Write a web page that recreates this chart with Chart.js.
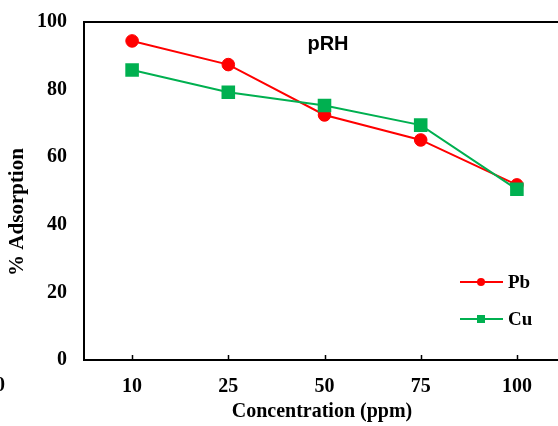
<!DOCTYPE html>
<html>
<head>
<meta charset="utf-8">
<script src="https://cdn.jsdelivr.net/npm/chart.js@4.4.1/dist/chart.umd.min.js"></script>
<style>
  html, body { margin: 0; padding: 0; background: #fff; overflow: hidden; }
  #wrap { width: 570px; height: 426px; }
</style>
</head>
<body>
<div id="wrap"><canvas id="c" width="570" height="426"></canvas></div>
<script>
// Concentration levels (ppm)
const categories = ['10', '25', '50', '75', '100'];
// % adsorption for each metal ion
const pbValues = [94.4, 87.4, 72.5, 65.1, 51.8];
const cuValues = [85.8, 79.2, 75.3, 69.5, 50.5];
const yTicks = [0, 20, 40, 60, 80, 100];

const SERIF = '"Liberation Serif", "Times New Roman", serif';

// keep the plot box fixed: no extra room for overhanging tick labels
function zeroPadding(scale) {
  scale.paddingTop = 0;
  scale.paddingBottom = 0;
  scale.paddingLeft = 0;
  scale.paddingRight = 0;
}

// Frame, inward x ticks, axis titles, in-plot title and legend
const decorations = {
  id: 'decorations',
  afterDraw(chart) {
    const { ctx, chartArea: a, scales } = chart;
    const x = scales.x;
    ctx.save();
    // top and right frame lines
    ctx.strokeStyle = '#000';
    ctx.lineWidth = 2;
    ctx.beginPath();
    ctx.moveTo(a.left - 1, a.top);
    ctx.lineTo(a.right, a.top);
    ctx.lineTo(a.right, a.bottom);
    ctx.stroke();
    // small tick marks pointing into the plot
    ctx.lineWidth = 1.5;
    ctx.beginPath();
    categories.forEach((c, i) => {
      const px = Math.round(x.getPixelForTick(i)) + 0.5;
      ctx.moveTo(px, a.bottom);
      ctx.lineTo(px, a.bottom - 5);
    });
    ctx.stroke();

    ctx.fillStyle = '#000';
    ctx.textAlign = 'center';
    ctx.textBaseline = 'middle';

    // x axis title
    ctx.font = 'bold 20px ' + SERIF;
    ctx.fillText('Concentration (ppm)', 322, 412);

    // y axis title
    ctx.save();
    ctx.font = 'bold 21px ' + SERIF;
    ctx.translate(18, (a.top + a.bottom) / 2 + 21);
    ctx.rotate(-Math.PI / 2);
    ctx.fillText('% Adsorption', 0, 0);
    ctx.restore();

    // panel title
    ctx.font = 'bold 20px "Liberation Sans", Arial, sans-serif';
    ctx.fillText('pRH', 328, 44);

    // clipped axis label of the neighbouring panel
    ctx.font = 'bold 20px ' + SERIF;
    ctx.textAlign = 'right';
    ctx.fillText('100', 5, 386);

    // legend
    const entries = chart.data.datasets.slice().sort((p, q) => q.order - p.order);
    entries.forEach((ds, i) => {
      const ly = 282 + i * 37;
      ctx.strokeStyle = ds.borderColor;
      ctx.lineWidth = 2;
      ctx.beginPath();
      ctx.moveTo(460, ly);
      ctx.lineTo(503, ly);
      ctx.stroke();
      ctx.fillStyle = ds.borderColor;
      if (ds.pointStyle === 'rect') {
        ctx.fillRect(477, ly - 4, 8, 8);
      } else {
        ctx.beginPath();
        ctx.arc(481, ly, 4, 0, Math.PI * 2);
        ctx.fill();
      }
      ctx.fillStyle = '#000';
      ctx.font = 'bold 19px ' + SERIF;
      ctx.textAlign = 'left';
      ctx.textBaseline = 'middle';
      ctx.fillText(ds.label, 508, ly + 1);
    });
    ctx.restore();
  }
};

new Chart(document.getElementById('c'), {
  type: 'line',
  data: {
    labels: categories,
    datasets: [
      {
        label: 'Pb',
        data: pbValues,
        borderColor: '#FF0000',
        backgroundColor: '#FF0000',
        borderWidth: 2,
        pointStyle: 'circle',
        pointRadius: 6.3,
        pointBorderWidth: 1,
        pointBackgroundColor: '#FF0000',
        pointBorderColor: '#FF0000',
        tension: 0,
        order: 1
      },
      {
        label: 'Cu',
        data: cuValues,
        borderColor: '#00B050',
        backgroundColor: '#00B050',
        borderWidth: 2,
        pointStyle: 'rect',
        pointRadius: 9.6,
        pointBorderWidth: 0,
        pointBackgroundColor: '#00B050',
        pointBorderColor: '#00B050',
        tension: 0,
        order: 0
      }
    ]
  },
  options: {
    responsive: false,
    animation: false,
    devicePixelRatio: 1,
    layout: { autoPadding: false, padding: { top: 22, right: 5, left: 0, bottom: 0 } },
    plugins: {
      legend: { display: false },
      tooltip: { enabled: false },
      title: { display: false }
    },
    scales: {
      x: {
        type: 'category',
        offset: true,
        grid: { display: false, drawTicks: false },
        border: { display: true, color: '#000', width: 2 },
        ticks: {
          color: '#000',
          font: { family: SERIF, size: 20, weight: 'bold' },
          padding: 15,
          maxRotation: 0
        },
        title: { display: false },
        afterFit(scale) { scale.height = 66; zeroPadding(scale); }
      },
      y: {
        min: 0,
        max: 100,
        grid: { display: false, drawTicks: false },
        border: { display: true, color: '#000', width: 2 },
        afterBuildTicks(scale) { scale.ticks = yTicks.map(v => ({ value: v })); },
        ticks: {
          color: '#000',
          font: { family: SERIF, size: 20, weight: 'bold' },
          padding: 17
        },
        afterFit(scale) { scale.width = 84; zeroPadding(scale); }
      }
    }
  },
  plugins: [decorations]
});
</script>
</body>
</html>
